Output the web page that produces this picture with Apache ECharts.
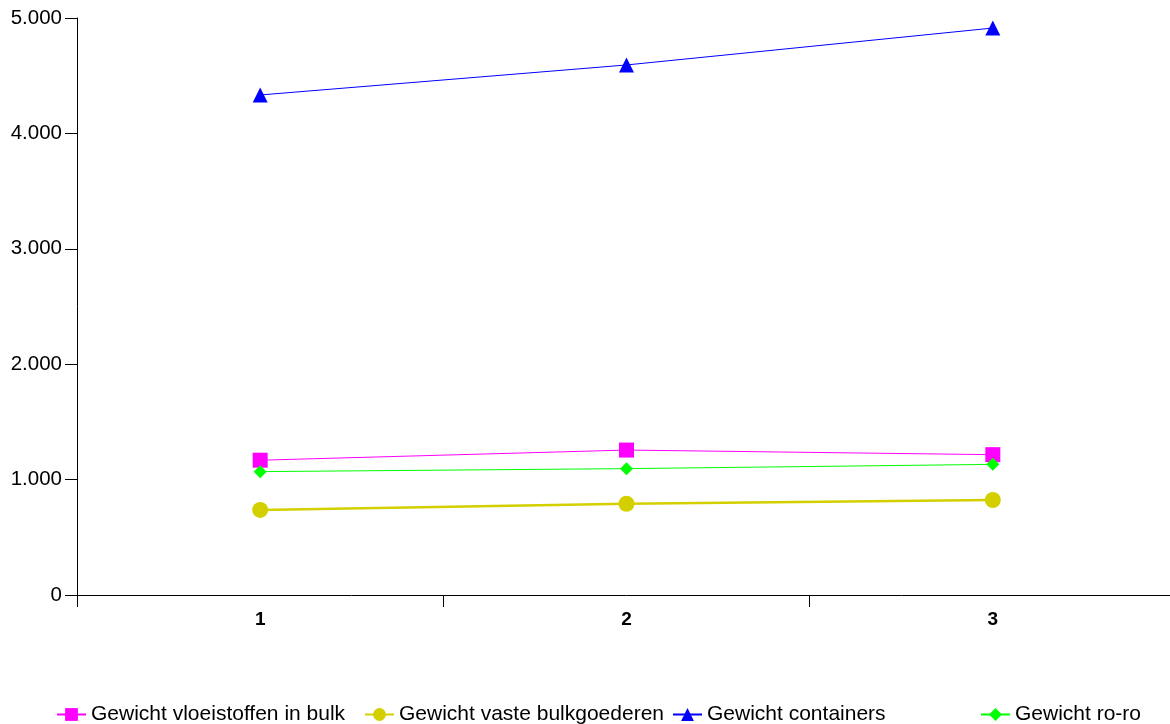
<!DOCTYPE html>
<html><head><meta charset="utf-8">
<script src="https://cdn.jsdelivr.net/npm/echarts@6/dist/echarts.min.js"></script>
<style>html,body{margin:0;padding:0;background:#fff;overflow:hidden}#c{width:1176px;height:724px}</style>
</head><body><div id="c"></div>
<script>
const categories = ['1', '2', '3'];
const vloeistoffen = [1168, 1256, 1216];
const vasteBulk = [737, 791, 823];
const containers = [4333, 4593, 4913];
const roro = [1069, 1095, 1132];
const yTicks = [0, 1000, 2000, 3000, 4000, 5000];

const names = ['Gewicht vloeistoffen in bulk', 'Gewicht vaste bulkgoederen', 'Gewicht containers', 'Gewicht ro-ro'];
const font = 'Liberation Sans, Arial, sans-serif';
const chart = echarts.init(document.getElementById('c'));
const legendLefts = [51, 359, 667, 975];
chart.setOption({
  animation: false,
  grid: { left: 77, top: 18, bottom: 129, right: 0, containLabel: false },
  legend: names.map((n, i) => ({
    data: [n], left: legendLefts[i], top: 699, itemWidth: 29, itemHeight: 16, itemGap: 4,
    textStyle: { fontFamily: font, fontSize: 21, color: '#000', padding: [0, 0, 0, 0] }
  })),
  xAxis: {
    type: 'category', data: categories, boundaryGap: true,
    axisLine: { lineStyle: { color: '#000', width: 1 } },
    axisTick: { show: true, length: 12, inside: false, lineStyle: { color: '#000' } },
    axisLabel: { fontFamily: font, fontSize: 19, fontWeight: 'bold', color: '#000', margin: 15 }
  },
  yAxis: {
    type: 'value', min: yTicks[0], max: yTicks[yTicks.length - 1], interval: 1000,
    axisLine: { show: true, lineStyle: { color: '#000', width: 1 } },
    axisTick: { show: true, length: 12, lineStyle: { color: '#000' } },
    splitLine: { show: false },
    axisLabel: { fontFamily: font, fontSize: 20.5, color: '#000', margin: 15,
      formatter: v => v.toLocaleString('de-DE') }
  },
  series: [
    { name: names[0], type: 'line', data: vloeistoffen, symbol: 'rect', symbolSize: 15,
      itemStyle: { color: '#FF00FF' }, lineStyle: { color: '#FF00FF', width: 1 } },
    { name: names[1], type: 'line', data: vasteBulk, symbol: 'circle', symbolSize: 16,
      itemStyle: { color: '#D4D000' }, lineStyle: { color: '#D4D000', width: 2.5 } },
    { name: names[2], type: 'line', data: containers, symbol: 'triangle', symbolSize: 15,
      itemStyle: { color: '#0000FF' }, lineStyle: { color: '#0000FF', width: 1 } },
    { name: names[3], type: 'line', data: roro, symbol: 'diamond', symbolSize: 13,
      itemStyle: { color: '#00FF00' }, lineStyle: { color: '#00FF00', width: 1 } }
  ]
});
</script></body></html>
